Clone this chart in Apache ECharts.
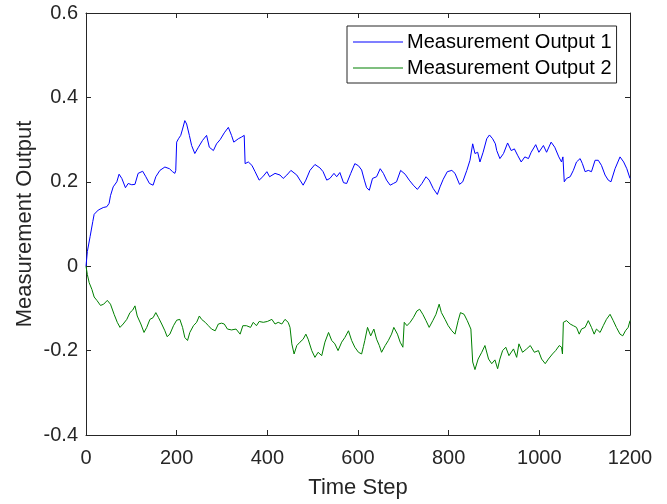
<!DOCTYPE html>
<html>
<head>
<meta charset="utf-8">
<title>Measurement Output</title>
<script src="https://cdn.jsdelivr.net/npm/echarts@6/dist/echarts.min.js"></script>
<style>
	html,body{margin:0;padding:0;background:#fff;}
	#chart{width:667px;height:504px;}
</style>
</head>
<body>
<div id="chart"></div>
<script>
// values
var xTicks=[0,200,400,600,800,1000,1200];
var yTicks=[-0.4,-0.2,0,0.2,0.4,0.6];
var seriesNames=['Measurement Output 1','Measurement Output 2'];

var steps1=[0,3,9,15,18,27,38,46,51,54,60,68,73,79,87,93,101,108,115,125,132,140,148,154,163,174,184,191,196,198,
	200,204,209,213,218,222,228,233,240,248,257,266,272,281,288,296,305,314,321,326,336,343,349,351,358,366,373,382,390,399,
	405,417,428,435,443,452,456,465,472,479,485,494,505,516,523,531,538,547,553,560,568,575,584,593,601,608,614,619,625,632,
	641,649,656,663,671,678,685,694,704,713,722,731,741,750,757,766,775,781,788,797,807,814,824,831,840,847,853,858,864,869,
	876,884,890,897,903,906,913,921,930,938,945,952,960,968,976,982,992,999,1009,1016,1026,1034,1043,1049,1052,1055,1060,1068,1075,1082,
	1090,1095,1101,1108,1115,1123,1130,1137,1145,1152,1158,1167,1178,1186,1193,1200];
var out1=[0,0.035,0.07,0.106,0.123,0.133,0.139,0.141,0.149,0.167,0.188,0.2,0.218,0.208,0.186,0.196,0.193,0.194,0.22,0.225,0.212,0.196,0.192,0.212,0.227,0.235,0.231,0.224,0.22,0.227,
	0.294,0.302,0.31,0.325,0.345,0.337,0.31,0.286,0.267,0.282,0.298,0.31,0.282,0.274,0.29,0.3,0.316,0.329,0.31,0.294,0.302,0.306,0.31,0.243,0.247,0.239,0.224,0.204,0.212,0.224,
	0.212,0.22,0.216,0.208,0.216,0.227,0.229,0.216,0.204,0.192,0.204,0.227,0.241,0.233,0.224,0.204,0.208,0.22,0.212,0.222,0.198,0.196,0.22,0.243,0.238,0.228,0.204,0.186,0.18,0.208,
	0.212,0.231,0.22,0.204,0.192,0.196,0.2,0.227,0.218,0.204,0.192,0.182,0.196,0.212,0.204,0.184,0.17,0.188,0.206,0.224,0.227,0.22,0.194,0.2,0.227,0.251,0.29,0.267,0.27,0.247,
	0.27,0.302,0.311,0.302,0.29,0.274,0.255,0.267,0.292,0.274,0.278,0.263,0.247,0.259,0.255,0.27,0.288,0.27,0.286,0.27,0.294,0.282,0.259,0.247,0.259,0.2,0.208,0.212,0.227,0.247,
	0.255,0.243,0.224,0.227,0.224,0.251,0.251,0.239,0.216,0.204,0.2,0.231,0.259,0.247,0.231,0.208];

var steps2=[0,3,7,13,18,24,32,39,47,54,62,69,75,82,90,97,103,108,113,121,128,134,141,148,154,160,167,174,179,185,
	193,200,207,213,218,224,229,237,244,250,255,263,270,277,285,292,299,305,312,321,331,340,346,354,363,369,376,382,391,400,
	410,417,424,432,439,446,450,454,459,465,472,479,485,490,498,505,512,520,527,535,542,549,556,564,571,579,586,593,601,608,
	612,615,621,628,635,641,647,652,660,667,674,679,687,693,699,702,708,715,722,730,736,743,750,757,765,772,779,784,792,799,
	807,814,821,826,834,841,849,853,858,865,873,880,888,895,902,908,913,919,926,933,943,950,955,963,972,980,989,998,1005,1013,
	1020,1029,1036,1044,1049,1051,1053,1060,1068,1075,1082,1088,1093,1101,1108,1115,1121,1126,1134,1141,1148,1156,1163,1170,1178,1184,1190,1196,1200];
var out2=[0,-0.02,-0.039,-0.055,-0.073,-0.081,-0.093,-0.09,-0.081,-0.09,-0.114,-0.133,-0.145,-0.137,-0.126,-0.11,-0.104,-0.094,-0.118,-0.137,-0.157,-0.145,-0.126,-0.122,-0.11,-0.122,-0.137,-0.153,-0.167,-0.161,
	-0.141,-0.128,-0.126,-0.145,-0.169,-0.176,-0.157,-0.141,-0.133,-0.118,-0.126,-0.133,-0.141,-0.149,-0.153,-0.137,-0.135,-0.137,-0.149,-0.151,-0.149,-0.161,-0.141,-0.141,-0.145,-0.133,-0.141,-0.131,-0.133,-0.131,
	-0.126,-0.137,-0.133,-0.137,-0.126,-0.133,-0.145,-0.184,-0.208,-0.188,-0.18,-0.173,-0.161,-0.173,-0.2,-0.216,-0.204,-0.212,-0.18,-0.157,-0.176,-0.184,-0.2,-0.18,-0.169,-0.153,-0.176,-0.192,-0.204,-0.208,
	-0.19,-0.176,-0.145,-0.165,-0.149,-0.173,-0.188,-0.204,-0.188,-0.176,-0.161,-0.145,-0.161,-0.18,-0.192,-0.133,-0.141,-0.133,-0.122,-0.106,-0.102,-0.114,-0.129,-0.145,-0.129,-0.114,-0.09,-0.11,-0.126,-0.141,
	-0.153,-0.161,-0.129,-0.11,-0.114,-0.129,-0.149,-0.227,-0.245,-0.22,-0.204,-0.188,-0.22,-0.231,-0.222,-0.243,-0.22,-0.2,-0.192,-0.212,-0.196,-0.216,-0.184,-0.204,-0.196,-0.188,-0.204,-0.2,-0.22,-0.231,
	-0.22,-0.208,-0.2,-0.188,-0.192,-0.208,-0.133,-0.129,-0.137,-0.141,-0.145,-0.161,-0.149,-0.145,-0.129,-0.145,-0.161,-0.149,-0.157,-0.141,-0.126,-0.114,-0.129,-0.145,-0.161,-0.165,-0.153,-0.145,-0.129];

function pairs(xs,ys){
	var res=[];
	for(var i=0;i<xs.length;i++){
		res.push([xs[i],ys[i]]);
	}
	return res;
}

function xLabel(v){
	return String(Math.round(v));
}
function yLabel(v){
	if(Math.abs(v)<1e-9) return '0';
	return v.toFixed(1);
}

var axisColor='#262626';
var fontName='Liberation Sans, Arial, Helvetica, sans-serif';

var baseX={
	type:'value',
	min:xTicks[0],
	max:xTicks[xTicks.length-1],
	interval:xTicks[1]-xTicks[0],
	axisLine:{show:true,onZero:false,lineStyle:{color:axisColor,width:1}},
	axisTick:{show:true,inside:true,length:5,lineStyle:{color:axisColor}},
	splitLine:{show:false}
};
var baseY={
	type:'value',
	min:yTicks[0],
	max:yTicks[yTicks.length-1],
	interval:0.2,
	axisLine:{show:true,onZero:false,lineStyle:{color:axisColor,width:1}},
	axisTick:{show:true,inside:true,length:5,lineStyle:{color:axisColor}},
	splitLine:{show:false}
};

var mychart=echarts.init(document.getElementById('chart'),null,{renderer:'canvas'});
var option={
	backgroundColor:'#ffffff',
	animation:false,
	textStyle:{fontFamily:fontName},
	grid:{left:86,right:37,top:13,bottom:66,containLabel:false},
	legend:{
		orient:'vertical',
		left:347,
		top:26,
		width:270,
		padding:[6,5,5,6],
		itemGap:6,
		itemWidth:50,
		itemHeight:1,
		icon:'rect',
		backgroundColor:'#ffffff',
		borderColor:axisColor,
		borderWidth:1,
		borderRadius:0,
		textStyle:{fontFamily:fontName,fontSize:20,color:'#000000',lineHeight:20,padding:[0,0,0,-1]},
		data:seriesNames
	},
	xAxis:[
		Object.assign({},baseX,{
			position:'bottom',
			name:'Time Step',
			nameLocation:'middle',
			nameGap:42,
			nameMoveOverlap:false,
			nameTextStyle:{fontFamily:fontName,fontSize:22,color:axisColor},
			axisLabel:{fontFamily:fontName,fontSize:20,color:axisColor,margin:13,formatter:xLabel}
		}),
		Object.assign({},baseX,{position:'top',axisLabel:{show:false}})
	],
	yAxis:[
		Object.assign({},baseY,{
			position:'left',
			name:'Measurement Output',
			nameLocation:'middle',
			nameGap:50,
			nameMoveOverlap:false,
			nameTextStyle:{fontFamily:fontName,fontSize:22,color:axisColor},
			axisLabel:{fontFamily:fontName,fontSize:20,color:axisColor,margin:8,formatter:yLabel}
		}),
		Object.assign({},baseY,{position:'right',axisLabel:{show:false}})
	],
	series:[
		{
			name:seriesNames[0],
			type:'line',
			xAxisIndex:0,
			yAxisIndex:0,
			symbol:'none',
			lineStyle:{color:'#0000ff',width:1},
			itemStyle:{color:'#0000ff'},
			data:pairs(steps1,out1)
		},
		{
			name:seriesNames[1],
			type:'line',
			xAxisIndex:0,
			yAxisIndex:0,
			symbol:'none',
			lineStyle:{color:'#008000',width:1},
			itemStyle:{color:'#008000'},
			data:pairs(steps2,out2)
		}
	]
};
mychart.setOption(option);
</script>
</body>
</html>
